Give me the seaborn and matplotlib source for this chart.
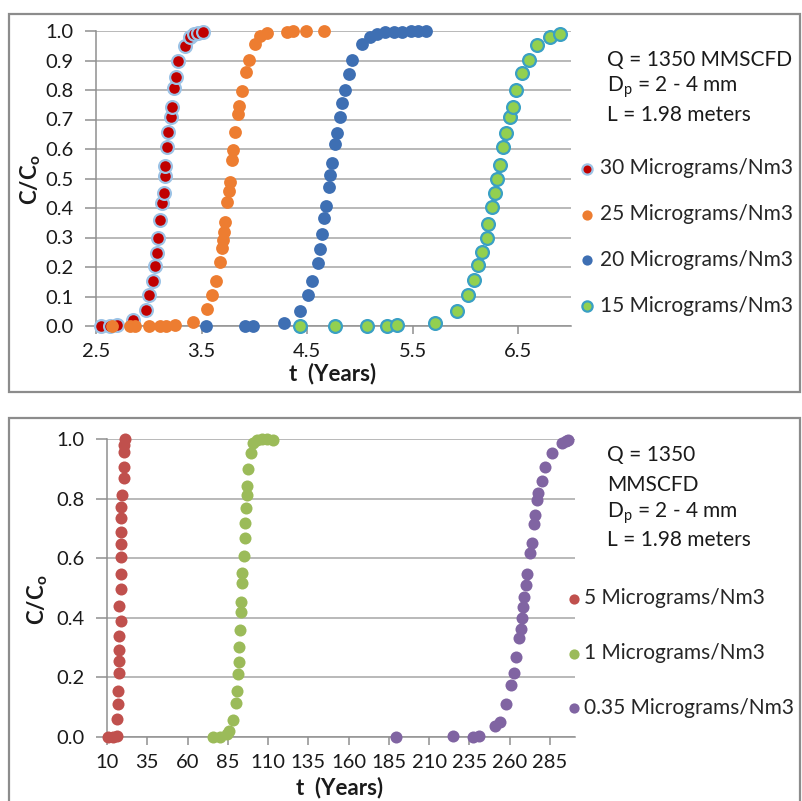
import numpy as np
import pandas as pd
import matplotlib
matplotlib.use("Agg")
import matplotlib.pyplot as plt
import matplotlib.patches as mpatches
import seaborn as sns

sns.set_theme(style="white")
plt.rcParams['font.family'] = ['Lato', 'DejaVu Sans']
plt.rcParams['mathtext.fontset'] = 'custom'
plt.rcParams['mathtext.rm'] = 'Lato'
plt.rcParams['mathtext.bf'] = 'Lato:bold'

# ---------------- top chart data (t in years, C/Co) ----------------
t30 = [2.55, 2.63, 2.70, 2.85, 2.97, 3.005, 3.04, 3.06, 3.08, 3.09, 3.107, 3.13, 3.14,
       3.154, 3.157, 3.176, 3.185, 3.21, 3.22, 3.24, 3.258, 3.28, 3.34, 3.39, 3.43, 3.47, 3.51]
c30 = [0.0, 0.0, 0.003, 0.02, 0.054, 0.105, 0.154, 0.204, 0.249, 0.297, 0.359, 0.416, 0.45,
       0.508, 0.542, 0.608, 0.659, 0.71, 0.741, 0.806, 0.843, 0.898, 0.949, 0.98, 0.99, 0.994, 0.998]

t25 = [2.65, 2.82, 2.87, 3.0, 3.11, 3.16, 3.25, 3.42, 3.55, 3.60, 3.64, 3.675, 3.69, 3.70,
       3.71, 3.72, 3.745, 3.757, 3.77, 3.79, 3.80, 3.82, 3.85, 3.855, 3.88, 3.92, 3.95, 4.007,
       4.055, 4.12, 4.31, 4.37, 4.49, 4.66]
c25 = [0.0, 0.0, 0.0, 0.0, 0.0, 0.0, 0.003, 0.012, 0.057, 0.105, 0.154, 0.216, 0.263, 0.291,
       0.32, 0.354, 0.421, 0.459, 0.487, 0.563, 0.597, 0.659, 0.718, 0.746, 0.797, 0.86, 0.902,
       0.955, 0.984, 0.992, 0.998, 1.0, 1.0, 1.0]

t20 = [3.54, 3.91, 3.99, 4.28, 4.43, 4.51, 4.55, 4.60, 4.62, 4.64, 4.66, 4.68, 4.71, 4.72,
       4.74, 4.765, 4.78, 4.81, 4.835, 4.855, 4.90, 4.93, 5.02, 5.10, 5.16, 5.24, 5.32, 5.40,
       5.48, 5.55, 5.63]
c20 = [0.0, 0.0, 0.0, 0.009, 0.052, 0.105, 0.154, 0.212, 0.26, 0.312, 0.365, 0.407, 0.472,
       0.512, 0.554, 0.617, 0.653, 0.71, 0.757, 0.8, 0.854, 0.902, 0.955, 0.98, 0.99, 0.995,
       0.997, 0.998, 1.0, 1.0, 1.0]

t15 = [4.43, 4.76, 5.07, 5.26, 5.35, 5.71, 5.92, 6.02, 6.08, 6.12, 6.16, 6.20, 6.21, 6.25,
       6.28, 6.30, 6.33, 6.36, 6.38, 6.42, 6.45, 6.48, 6.535, 6.60, 6.68, 6.80, 6.90]
c15 = [0.0, 0.0, 0.0, 0.0, 0.002, 0.009, 0.051, 0.105, 0.156, 0.207, 0.252, 0.30, 0.346,
       0.404, 0.452, 0.497, 0.546, 0.608, 0.653, 0.707, 0.743, 0.80, 0.857, 0.902, 0.953,
       0.98, 0.99]

# ---------------- bottom chart data ----------------
t5 = [10.8, 13.9, 16.4, 16.4, 17.0, 17.0, 17.6, 17.6, 17.6, 17.6, 18.5, 17.6, 18.5, 18.5,
      18.5, 18.5, 18.5, 18.5, 18.5, 19.1, 20.4, 20.8, 20.4, 20.4, 21.2]
c5 = [0.0, 0.0, 0.005, 0.059, 0.11, 0.153, 0.216, 0.255, 0.292, 0.339, 0.389, 0.44, 0.495,
      0.547, 0.603, 0.647, 0.689, 0.734, 0.773, 0.812, 0.868, 0.907, 0.957, 0.98, 1.0]

t1 = [75.6, 80.1, 84.3, 85.9, 88.4, 90.1, 90.9, 91.1, 91.9, 91.9, 92.6, 93.2, 93.2, 93.6,
      94.0, 95.0, 95.7, 95.7, 96.3, 96.7, 96.7, 97.6, 99.1, 100.8, 102.9, 106.0, 109.5, 112.9]
c1 = [0.0, 0.0, 0.01, 0.02, 0.057, 0.115, 0.155, 0.211, 0.253, 0.303, 0.359, 0.42, 0.454,
      0.516, 0.549, 0.607, 0.667, 0.717, 0.767, 0.812, 0.842, 0.901, 0.952, 0.986, 0.995,
      1.0, 1.0, 0.998]

t035 = [189.4, 224.6, 237.4, 240.9, 250.8, 254.0, 257.7, 260.8, 262.8, 263.9, 266.0, 266.8,
        267.6, 268.0, 268.8, 270.1, 270.5, 272.6, 273.6, 275.0, 275.7, 276.7, 277.7, 279.8,
        281.9, 286.0, 292.2, 294.7, 296.0]
c035 = [0.0, 0.003, 0.0, 0.005, 0.037, 0.051, 0.11, 0.174, 0.216, 0.27, 0.333, 0.361, 0.40,
        0.435, 0.471, 0.51, 0.547, 0.618, 0.652, 0.715, 0.745, 0.795, 0.82, 0.859, 0.905,
        0.954, 0.985, 0.993, 0.997]

top_labels = ["30 Micrograms/Nm3", "25 Micrograms/Nm3", "20 Micrograms/Nm3", "15 Micrograms/Nm3"]
bot_labels = ["5 Micrograms/Nm3", "1 Micrograms/Nm3", "0.35 Micrograms/Nm3"]
top_xticks = [2.5, 3.5, 4.5, 5.5, 6.5]
bot_xticks = [10, 35, 60, 85, 110, 135, 160, 185, 210, 235, 260, 285]

W, H = 803, 801
fig = plt.figure(figsize=(W / 100, H / 100), dpi=100)
fig.patch.set_facecolor("white")

def fx(px):
    return px / W

def fy(py):
    return 1 - py / H

# chart frames
for (x0, y0, x1, y1) in [(9, 14, 800, 392), (9, 418, 800, 806)]:
    fig.add_artist(mpatches.Rectangle((fx(x0), fy(y1)), fx(x1 - x0), (y1 - y0) / H,
                                      transform=fig.transFigure, fill=False,
                                      edgecolor="#8c8c8c", linewidth=1.6, clip_on=False))

grid_c = "#a6a6a6"
tick_fs = 14.5

def style_axes(ax):
    for s in ["top", "right"]:
        ax.spines[s].set_visible(False)
    for s in ["left", "bottom"]:
        ax.spines[s].set_color("#8f8f8f")
        ax.spines[s].set_linewidth(1.1)
    ax.yaxis.grid(True, color=grid_c, linewidth=1.1)
    ax.xaxis.grid(False)
    ax.set_axisbelow(True)
    ax.tick_params(axis="both", which="both", direction="out", length=6, width=1.1,
                   color="#8f8f8f", labelsize=tick_fs, labelcolor="#1a1a1a", pad=6,
                   left=True, bottom=True)
    ax.tick_params(axis="y", length=8, pad=8)
    ax.set_xlabel("")
    ax.set_ylabel("")

# ---------------- top axes ----------------
ax1 = fig.add_axes([fx(96), fy(326), (571 - 96) / W, (326 - 31) / H])
top_series = [(t30, c30, "#c00000", "#9dc3e6", 1.6),
              (t25, c25, "#ed7d31", "#ed7d31", 0.0),
              (t20, c20, "#3e6fb3", "#3e6fb3", 0.0),
              (t15, c15, "#92d050", "#3aa0c4", 1.6)]
for (t, c, fc, ec, lw), lab in zip(top_series, top_labels):
    df = pd.DataFrame({"t": t, "c": c})
    sns.scatterplot(data=df, x="t", y="c", ax=ax1, color=fc, edgecolor=ec, linewidth=lw,
                    s=85, label=lab, clip_on=False, zorder=3)
ax1.set_xlim(2.5, 7.0)
ax1.set_ylim(0, 1.0)
ax1.set_xticks(top_xticks)
ax1.set_xticklabels([f"{v:.1f}" for v in top_xticks])
ax1.set_yticks(np.round(np.arange(0, 1.01, 0.1), 1))
ax1.set_yticklabels([f"{v:.1f}" for v in np.arange(0, 1.01, 0.1)])
style_axes(ax1)
leg1 = ax1.legend(loc="upper left", bbox_to_anchor=(fx(570.5), fy(150)),
                  bbox_transform=fig.transFigure, frameon=False, fontsize=15,
                  handletextpad=0.22, labelspacing=1.235, markerscale=0.8, borderaxespad=0,
                  handlelength=0.8)

fig.text(fx(607), fy(60), "Q = 1350 MMSCFD", fontsize=15, va="center", ha="left", color="#1a1a1a")
fig.text(fx(607), fy(87), r"D$_\mathregular{p}$ = 2 - 4 mm", fontsize=15, va="center", ha="left", color="#1a1a1a")
fig.text(fx(607), fy(115), "L = 1.98 meters", fontsize=15, va="center", ha="left", color="#1a1a1a")
fig.text(fx(31), fy(180), r"C/C$_\mathregular{o}$", fontsize=16, fontweight="bold",
         rotation=90, va="center", ha="center", color="#1a1a1a")
fig.text(fx(333), fy(374), "t  (Years)", fontsize=16, fontweight="bold",
         va="center", ha="center", color="#1a1a1a")

# ---------------- bottom axes ----------------
ax2 = fig.add_axes([fx(107), fy(737), (575 - 107) / W, (737 - 439) / H])
bot_series = [(t5, c5, "#c0504d"), (t1, c1, "#9bbb59"), (t035, c035, "#8064a2")]
for (t, c, fc), lab in zip(bot_series, bot_labels):
    df = pd.DataFrame({"t": t, "c": c})
    sns.scatterplot(data=df, x="t", y="c", ax=ax2, color=fc, edgecolor=fc, linewidth=0,
                    s=75, label=lab, clip_on=False, zorder=3)
ax2.set_xlim(10, 300.5)
ax2.set_ylim(0, 1.0)
ax2.set_xticks(bot_xticks)
ax2.set_xticklabels([str(v) for v in bot_xticks])
ax2.set_yticks(np.round(np.arange(0, 1.01, 0.2), 1))
ax2.set_yticklabels([f"{v:.1f}" for v in np.arange(0, 1.01, 0.2)])
style_axes(ax2)
leg2 = ax2.legend(loc="upper left", bbox_to_anchor=(fx(557), fy(580)),
                  bbox_transform=fig.transFigure, frameon=False, fontsize=15,
                  handletextpad=0.1, labelspacing=1.67, markerscale=0.85, borderaxespad=0,
                  handlelength=0.8)

for txt, py in [("Q = 1350", 455), ("MMSCFD", 485),
                (r"D$_\mathregular{p}$ = 2 - 4 mm", 513), ("L = 1.98 meters", 540)]:
    fig.text(fx(607), fy(py), txt, fontsize=15, va="center", ha="left", color="#1a1a1a")
fig.text(fx(38), fy(600), r"C/C$_\mathregular{o}$", fontsize=16, fontweight="bold",
         rotation=90, va="center", ha="center", color="#1a1a1a")
fig.text(fx(340), fy(788), "t  (Years)", fontsize=16, fontweight="bold",
         va="center", ha="center", color="#1a1a1a")

fig.savefig("out.png", dpi=100, facecolor="white")
